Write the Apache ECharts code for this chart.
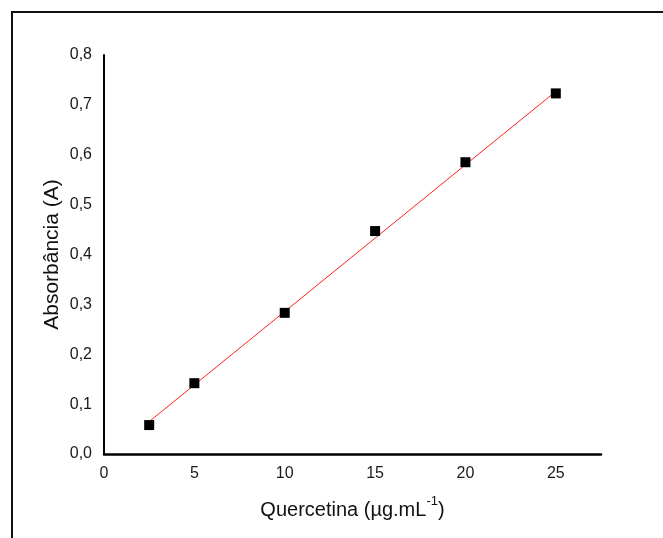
<!DOCTYPE html>
<html>
<head>
<meta charset="utf-8">
<script src="https://cdn.jsdelivr.net/npm/echarts@6/dist/echarts.min.js"></script>
<style>
  html, body { margin: 0; padding: 0; background: #fff; }
  #frame { position: absolute; left: 11px; top: 11px; width: 700px; height: 600px;
           border-left: 2px solid #111; border-top: 2px solid #111; }
  #chart { position: absolute; left: 0; top: 0; width: 663px; height: 538px; }
</style>
</head>
<body>
<div id="frame"></div>
<div id="chart"></div>
<script>
  // concentração de quercetina (ug/mL) e absorbância lida
  const concentracao = [2.5, 5, 10, 15, 20, 25];
  const absorbancia = [0.058, 0.142, 0.283, 0.447, 0.585, 0.723];
  // pontas da reta de regressão
  const retaX = [2.5, 25];
  const retaY = [0.065, 0.727];
  const xTicks = [0, 5, 10, 15, 20, 25];
  const yTicks = [0, 0.1, 0.2, 0.3, 0.4, 0.5, 0.6, 0.7, 0.8];

  const pontos = concentracao.map((x, i) => [x, absorbancia[i]]);
  const reta = retaX.map((x, i) => [x, retaY[i]]);

  const myChart = echarts.init(document.getElementById('chart'));
  const option = {
    animation: false,
    grid: { left: 104, right: 62, top: 55, bottom: 84 },
    xAxis: {
      type: 'value',
      min: 0,
      max: 27.5,
      interval: 5,
      splitLine: { show: false },
      axisTick: { show: false },
      axisLine: { show: true, onZero: false, lineStyle: { color: '#000', width: 2.5 } },
      axisLabel: {
        color: '#1a1a1a', fontSize: 16, fontFamily: 'Liberation Sans', margin: 12,
        formatter: v => (xTicks.indexOf(v) >= 0 ? String(v) : '')
      },
      name: '{t|Quercetina (µg.mL}{s|-1}{t|)}',
      nameLocation: 'middle',
      nameGap: 41,
      nameTextStyle: {
        rich: {
          t: { fontSize: 20, color: '#111', fontFamily: 'Liberation Sans', verticalAlign: 'bottom' },
          s: { fontSize: 13, color: '#111', fontFamily: 'Liberation Sans', verticalAlign: 'top', padding: [0, 0, 12, 0] }
        }
      }
    },
    yAxis: {
      type: 'value',
      min: 0,
      max: 0.8,
      interval: 0.1,
      splitLine: { show: false },
      axisTick: { show: false },
      axisLine: { show: true, lineStyle: { color: '#000', width: 2 } },
      axisLabel: {
        color: '#1a1a1a', fontSize: 16, fontFamily: 'Liberation Sans', margin: 12,
        formatter: v => v.toFixed(1).replace('.', ',')
      },
      name: 'Absorbância (A)',
      nameLocation: 'middle',
      nameRotate: 90,
      nameGap: 41,
      nameMoveOverlap: false,
      nameTextStyle: { fontSize: 21, color: '#111', fontFamily: 'Liberation Sans' }
    },
    series: [
      {
        type: 'line',
        data: reta,
        symbol: 'none',
        lineStyle: { color: '#ff2020', width: 1 },
        z: 2
      },
      {
        type: 'scatter',
        data: pontos,
        symbol: 'rect',
        symbolSize: 10,
        itemStyle: { color: '#000', opacity: 1 },
        z: 3
      }
    ]
  };
  myChart.setOption(option);
</script>
</body>
</html>
